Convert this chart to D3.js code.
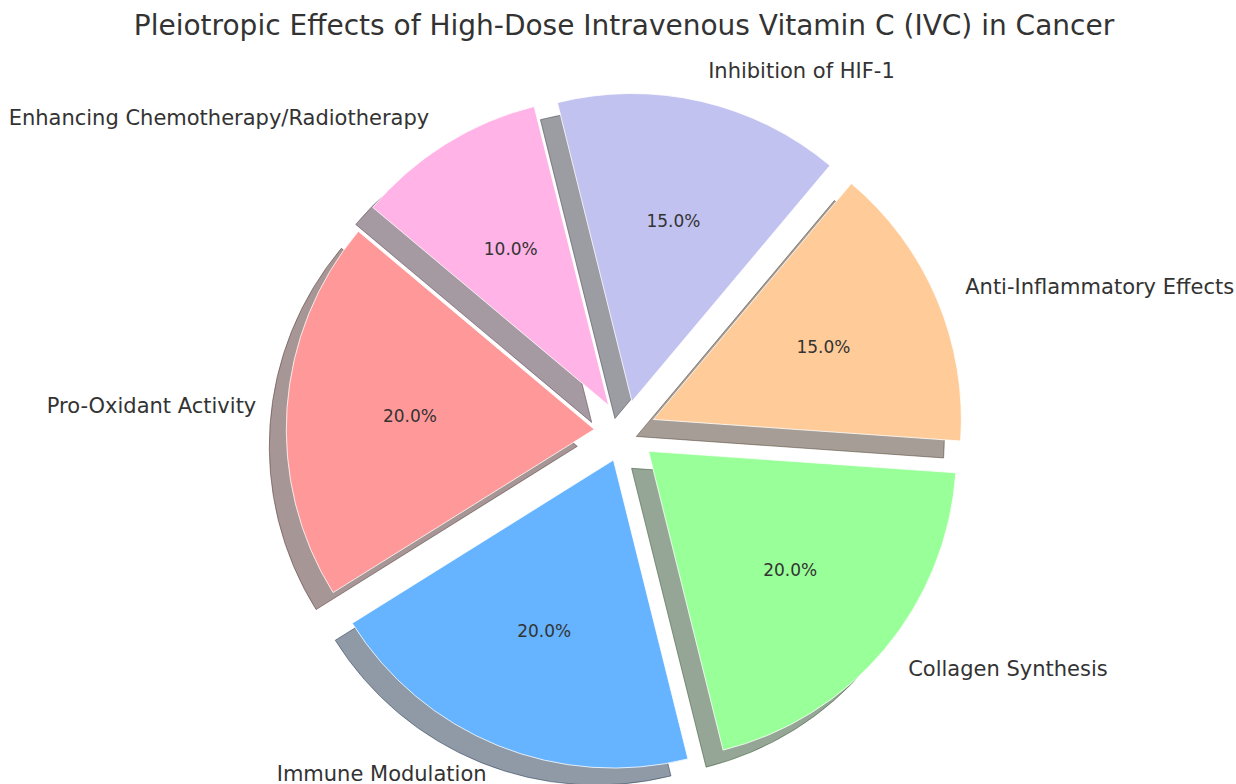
<!DOCTYPE html>
<html><head><meta charset="utf-8">
<script src="https://cdn.jsdelivr.net/npm/d3@7"></script>
<style>body{margin:0;background:#fff;} svg{display:block;}</style>
</head><body>
<svg id="chart" width="1236" height="784"></svg>
<script>
const categories = ["Pro-Oxidant Activity","Immune Modulation","Collagen Synthesis","Anti-Inflammatory Effects","Inhibition of HIF-1","Enhancing Chemotherapy/Radiotherapy"];
const values = [20, 20, 20, 15, 15, 10];
const colors = ["#ff9999","#66b3ff","#99ff99","#ffcc99","#c2c2f0","#ffb3e6"];
const explode = [0.1, 0.1, 0.1, 0.1, 0.1, 0.1];
const title = "Pleiotropic Effects of High-Dose Intravenous Vitamin C (IVC) in Cancer";

const W = 1236, H = 784;
const cx = 625, cy = 431.5, R = 308;
const startDeg = 140; // matplotlib startangle, counter-clockwise
const shadowDx = -17, shadowDy = 17;

const svg = d3.select("#chart");
const toRad = d => d * Math.PI / 180;
const a0 = toRad(90 - startDeg);
const pie = d3.pie().sort(null).value(d => d).startAngle(a0).endAngle(a0 - 2 * Math.PI);
const arcs = pie(values);
const arc = d3.arc().innerRadius(0).outerRadius(R);

const dir = d => { const m = (d.startAngle + d.endAngle) / 2; return [Math.sin(m), -Math.cos(m)]; };
const total = d3.sum(values);

const g = svg.append("g").attr("transform", `translate(${cx},${cy})`);

// shadows
g.append("g").selectAll("path").data(arcs).join("path")
  .attr("transform", (d, i) => { const [ux, uy] = dir(d); const e = explode[i] * R; return `translate(${ux * e + shadowDx},${uy * e + shadowDy})`; })
  .attr("d", arc)
  .attr("fill", (d, i) => { const c = d3.rgb(colors[i]); return d3.rgb(c.r * 0.3, c.g * 0.3, c.b * 0.3); })
  .attr("fill-opacity", 0.5)
  .attr("stroke", (d, i) => { const c = d3.rgb(colors[i]); return d3.rgb(c.r * 0.3, c.g * 0.3, c.b * 0.3); })
  .attr("stroke-opacity", 0.5)
  .attr("stroke-width", 1);

// wedges
g.append("g").selectAll("path").data(arcs).join("path")
  .attr("transform", (d, i) => { const [ux, uy] = dir(d); const e = explode[i] * R; return `translate(${ux * e},${uy * e})`; })
  .attr("d", arc)
  .attr("fill", (d, i) => colors[i])
  .attr("stroke", "#ffffff")
  .attr("stroke-width", 0.8);

// labels
g.append("g").selectAll("text").data(arcs).join("text")
  .attr("x", (d, i) => { const [ux] = dir(d); return ux * (explode[i] * R + 1.1 * R); })
  .attr("y", (d, i) => { const [, uy] = dir(d); return uy * (explode[i] * R + 1.1 * R); })
  .attr("text-anchor", d => dir(d)[0] > 0 ? "start" : "end")
  .attr("dominant-baseline", "central")
  .attr("font-family", "DejaVu Sans")
  .attr("font-size", 21)
  .attr("fill", "#333333")
  .text((d, i) => categories[i]);

// percentages
g.append("g").selectAll("text").data(arcs).join("text")
  .attr("x", (d, i) => { const [ux] = dir(d); return ux * (explode[i] * R + 0.6 * R); })
  .attr("y", (d, i) => { const [, uy] = dir(d); return uy * (explode[i] * R + 0.6 * R); })
  .attr("text-anchor", "middle")
  .attr("dominant-baseline", "central")
  .attr("font-family", "DejaVu Sans")
  .attr("font-size", 17)
  .attr("fill", "#333333")
  .text(d => (d.value / total * 100).toFixed(1) + "%");

svg.append("text")
  .attr("x", 624).attr("y", 25)
  .attr("text-anchor", "middle")
  .attr("dominant-baseline", "central")
  .attr("font-family", "DejaVu Sans")
  .attr("font-size", 28)
  .attr("fill", "#333333")
  .text(title);
</script>
</body></html>
